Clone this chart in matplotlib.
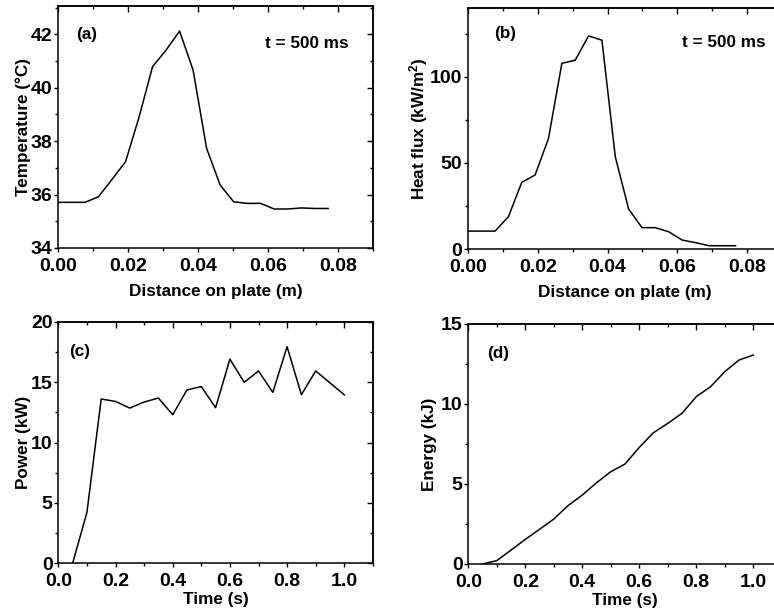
import matplotlib
matplotlib.use("Agg")
import matplotlib.pyplot as plt
from matplotlib.ticker import MultipleLocator, FormatStrFormatter

# ---------------- data ----------------
dist_a = [0.0, 0.00386, 0.00772, 0.01158, 0.01544, 0.0193, 0.02316, 0.02702, 0.03088,
          0.03474, 0.0386, 0.04246, 0.04632, 0.05018, 0.05404, 0.0579, 0.06176,
          0.06562, 0.06948, 0.07334, 0.0772]
temperature = [35.71, 35.71, 35.71, 35.92, 36.57, 37.23, 38.9, 40.79, 41.41, 42.12,
               40.66, 37.73, 36.36, 35.73, 35.67, 35.67, 35.46, 35.46, 35.5, 35.48, 35.48]

dist_b = [0.0, 0.00384, 0.00768, 0.01152, 0.01536, 0.0192, 0.02304, 0.02688, 0.03072,
          0.03456, 0.0384, 0.04224, 0.04608, 0.04992, 0.05376, 0.0576, 0.06144,
          0.06528, 0.06912, 0.07296, 0.0768]
heat_flux = [10.4, 10.4, 10.4, 18.7, 38.7, 43.0, 64.2, 107.8, 109.7, 123.8, 121.3,
             53.6, 23.2, 12.4, 12.4, 10.0, 5.2, 3.7, 1.9, 1.9, 1.9]

time_c = [0.05, 0.1, 0.15, 0.2, 0.25, 0.3, 0.35, 0.4, 0.45, 0.5, 0.55, 0.6, 0.65,
          0.7, 0.75, 0.8, 0.85, 0.9, 1.0]
power = [0.0, 4.2, 13.6, 13.4, 12.85, 13.35, 13.68, 12.3, 14.35, 14.63, 12.88, 16.9,
         14.98, 15.92, 14.15, 17.93, 13.96, 15.92, 13.95]

time_d = [0.05, 0.1, 0.15, 0.2, 0.25, 0.3, 0.35, 0.4, 0.45, 0.5, 0.55, 0.6, 0.65,
          0.7, 0.75, 0.8, 0.85, 0.9, 0.95, 1.0]
energy = [0.0, 0.21, 0.87, 1.54, 2.17, 2.81, 3.65, 4.31, 5.08, 5.77, 6.25, 7.29,
          8.21, 8.79, 9.42, 10.46, 11.08, 12.02, 12.75, 13.06]

# ---------------- style ----------------
plt.rcParams['font.family'] = ['Liberation Sans', 'DejaVu Sans']
plt.rcParams['font.weight'] = 'bold'
plt.rcParams['axes.labelweight'] = 'bold'
plt.rcParams['mathtext.fontset'] = 'custom'
plt.rcParams['mathtext.rm'] = 'Liberation Sans:bold'
plt.rcParams['mathtext.bf'] = 'Liberation Sans:bold'
plt.rcParams['mathtext.default'] = 'rm'

TICK_FS = 14
LABEL_FS = 12.3
TEXT_FS = 12.3
W, H = 774, 615
fig = plt.figure(figsize=(W / 100, H / 100), dpi=100)


def make_ax(left, bottom, right, top):
    # pixel coords (from top-left) -> figure fraction
    return fig.add_axes([left / W, 1 - bottom / H, (right - left) / W, (bottom - top) / H])


def style(ax, xmaj, xmin, ymaj, ymin, xfmt, ypad=1.0):
    ax.xaxis.set_major_locator(MultipleLocator(xmaj))
    ax.xaxis.set_minor_locator(MultipleLocator(xmin))
    ax.yaxis.set_major_locator(MultipleLocator(ymaj))
    ax.yaxis.set_minor_locator(MultipleLocator(ymin))
    ax.xaxis.set_major_formatter(FormatStrFormatter(xfmt))
    ax.tick_params(which='both', direction='out', width=1.0, labelsize=TICK_FS)
    ax.tick_params(axis='x', pad=4.0)
    ax.tick_params(axis='y', pad=ypad)
    ax.tick_params(which='major', length=3.0)
    ax.tick_params(which='minor', length=2)
    for s in ax.spines.values():
        s.set_linewidth(1.1)
    top = ax.secondary_xaxis('top')
    right = ax.secondary_yaxis('right')
    top.xaxis.set_major_locator(MultipleLocator(xmaj))
    top.xaxis.set_minor_locator(MultipleLocator(xmin))
    right.yaxis.set_major_locator(MultipleLocator(ymaj))
    right.yaxis.set_minor_locator(MultipleLocator(ymin))
    for sec, axis in ((top, top.xaxis), (right, right.yaxis)):
        sec.tick_params(which='both', direction='in', width=1.0)
        sec.tick_params(which='major', length=4.0)
        sec.tick_params(which='minor', length=2)
        axis.set_ticklabels([])
        for s in sec.spines.values():
            s.set_linewidth(1.1)


lw = 1.1

# (a)
ax = make_ax(58, 248, 373, 6)
ax.plot(dist_a, temperature, color='black', lw=lw)
ax.set_xlim(0, 0.09)
ax.set_ylim(34, 43.06)
style(ax, 0.02, 0.01, 2, 1, '%.2f')
ax.set_xlabel('Distance on plate (m)', fontsize=LABEL_FS, labelpad=6.5)
ax.set_ylabel('Temperature (°C)', fontsize=LABEL_FS, labelpad=0)
ax.text(0.092, 0.884, '(a)', transform=ax.transAxes, ha='center', va='center', fontsize=TEXT_FS)
ax.text(0.79, 0.847, 't = 500 ms', transform=ax.transAxes, ha='center', va='center', fontsize=TEXT_FS)

# (b)
ax = make_ax(468.3, 249, 468.3 + 313.2, 8)
ax.plot(dist_b, heat_flux, color='black', lw=lw)
ax.set_xlim(0, 0.09)
ax.set_ylim(0, 140)
style(ax, 0.02, 0.01, 50, 25, '%.2f', ypad=1.5)
ax.set_xlabel('Distance on plate (m)', fontsize=LABEL_FS, labelpad=6.5)
ax.set_ylabel('Heat flux (kW/m$^2$)', fontsize=LABEL_FS, labelpad=0)
ax.text(0.116, 0.896, '(b)', transform=ax.transAxes, ha='center', va='center', fontsize=TEXT_FS)
ax.text(0.816, 0.855, 't = 500 ms', transform=ax.transAxes, ha='center', va='center', fontsize=TEXT_FS)

# (c)
ax = make_ax(58.3, 563.3, 58.3 + 314.6, 321.7)
ax.plot(time_c, power, color='black', lw=lw)
ax.set_xlim(0, 1.1)
ax.set_ylim(0, 20)
style(ax, 0.2, 0.1, 5, 2.5, '%.1f')
ax.set_xlabel('Time (s)', fontsize=LABEL_FS, labelpad=1.5)
ax.set_ylabel('Power (kW)', fontsize=LABEL_FS, labelpad=0)
ax.text(0.069, 0.876, '(c)', transform=ax.transAxes, ha='center', va='center', fontsize=TEXT_FS)

# (d)
ax = make_ax(468.3, 564, 468.3 + 313.5, 324)
ax.plot(time_d, energy, color='black', lw=lw)
ax.set_xlim(0, 1.1)
ax.set_ylim(0, 15)
style(ax, 0.2, 0.1, 5, 2.5, '%.1f')
ax.set_xlabel('Time (s)', fontsize=LABEL_FS, labelpad=1.5)
ax.set_ylabel('Energy (kJ)', fontsize=LABEL_FS, labelpad=3)
ax.text(0.096, 0.879, '(d)', transform=ax.transAxes, ha='center', va='center', fontsize=TEXT_FS)

fig.savefig('out.png', dpi=100)
